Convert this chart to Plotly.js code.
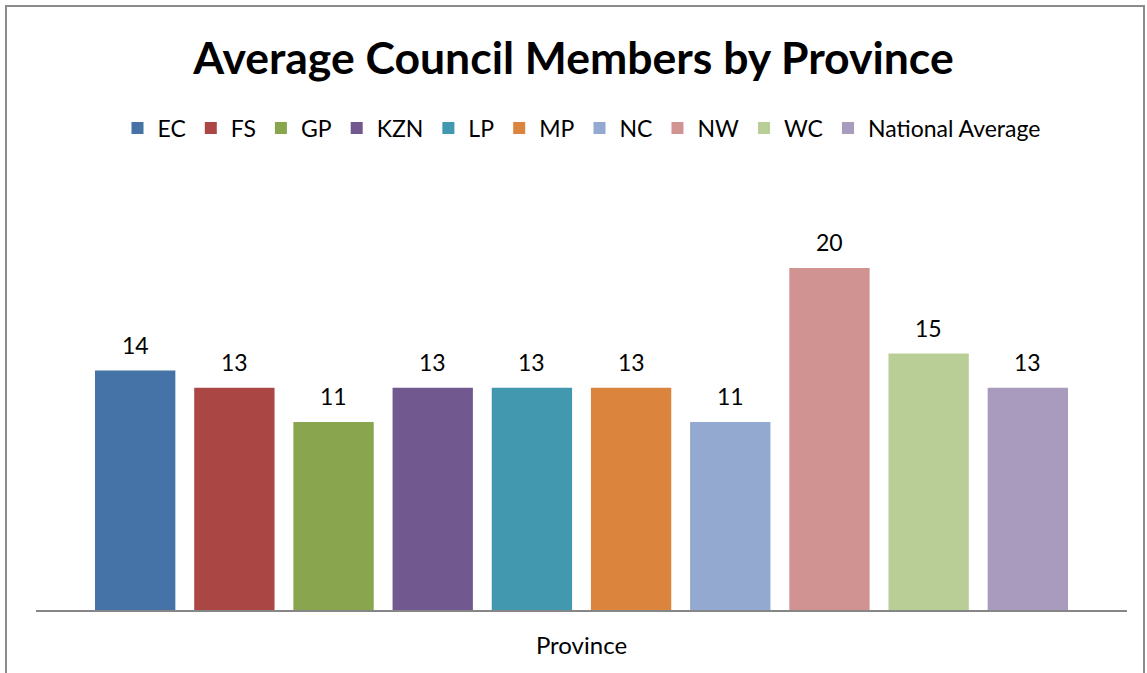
<!DOCTYPE html>
<html>
<head>
<meta charset="utf-8">
<script src="https://cdn.plot.ly/plotly-3.0.1.min.js"></script>
<style>
  html, body { margin: 0; padding: 0; background: #fff; }
  #wrap { position: relative; width: 1147px; height: 673px; overflow: hidden; }
  #chart { position: absolute; left: 0; top: 0; width: 1147px; height: 673px; }
  #frame { position: absolute; left: 5px; top: 5px; width: 1140px; height: 700px;
           border: 2px solid #8c8c8c; box-sizing: border-box; pointer-events: none; }
</style>
</head>
<body>
<div id="wrap">
  <div id="chart"></div>
  <div id="frame"></div>
</div>
<script>
const provinces = ["EC", "FS", "GP", "KZN", "LP", "MP", "NC", "NW", "WC", "National Average"];
const avgMembers = [14, 13, 11, 13, 13, 13, 11, 20, 15, 13];
const colors = ["#4572A7", "#AA4643", "#89A54E", "#71588F", "#4198AF",
                "#DB843D", "#93A9CF", "#D19392", "#B9CD96", "#A99BBD"];

const FONT = "Lato, Calibri, 'Open Sans', sans-serif";

const traces = provinces.map((p, i) => ({
  type: "bar",
  name: p,
  x: [p],
  y: [avgMembers[i]],
  width: 0.81,
  marker: { color: colors[i] },
  hoverinfo: "name+y"
}));

const annotations = provinces.map((p, i) => ({
  x: p,
  y: avgMembers[i],
  xref: "x",
  yref: "y",
  text: String(avgMembers[i]),
  showarrow: false,
  yanchor: "middle",
  yshift: 26,
  font: { family: FONT, size: 23, color: "#000" }
}));

const layout = {
  width: 1147,
  height: 673,
  paper_bgcolor: "#fff",
  plot_bgcolor: "#fff",
  margin: { l: 36, r: 20, t: 176, b: 63 },
  barmode: "overlay",
  showlegend: true,
  title: {
    text: "<b>Average Council Members by Province</b>",
    font: { family: FONT, size: 44.5, color: "#000" },
    x: 0.5, xanchor: "center",
    y: 1 - 58 / 673, yanchor: "middle"
  },
  legend: {
    orientation: "h",
    x: 0.5, xanchor: "center",
    y: (610 - 128) / 434, yanchor: "middle",
    font: { family: FONT, size: 23, color: "#000" },
    traceorder: "normal"
  },
  xaxis: {
    type: "category",
    range: [-1, 10],
    showticklabels: false,
    ticks: "",
    showgrid: false,
    zeroline: false,
    showline: true,
    linecolor: "#868686",
    linewidth: 2,
    title: {
      text: "Province",
      font: { family: FONT, size: 24, color: "#000" },
      standoff: 26
    }
  },
  yaxis: {
    range: [0, 434 / 17.1],
    visible: false,
    showgrid: false,
    zeroline: false
  },
  annotations: annotations
};

Plotly.newPlot("chart", traces, layout, { displayModeBar: false, staticPlot: true });
</script>
</body>
</html>
